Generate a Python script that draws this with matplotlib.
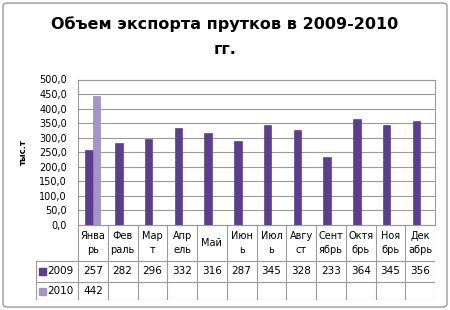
import matplotlib.pyplot as plt
import numpy as np
from matplotlib.patches import Rectangle, FancyBboxPatch

months = ["Янва\nрь", "Фев\nраль", "Мар\nт", "Апр\nель", "Май", "Июн\nь",
          "Июл\nь", "Авгу\nст", "Сент\nябрь", "Октя\nбрь", "Ноя\nбрь", "Дек\nабрь"]
series_names = ["2009", "2010"]
v2009 = [257, 282, 296, 332, 316, 287, 345, 328, 233, 364, 345, 356]
v2010 = [442]
colors = ["#5d3d8f", "#a595c6"]

W, H = 450, 310
fig = plt.figure(figsize=(W / 100, H / 100), dpi=100)
plt.rcParams['font.family'] = ['DejaVu Sans']

def box(l, t, r, b):
    return [l / W, 1 - b / H, (r - l) / W, (b - t) / H]

# outer frame
fig.patches.append(FancyBboxPatch((3 / W, 3 / H), 1 - 6 / W, 1 - 6 / H,
                                  boxstyle="round,pad=0,rounding_size=0.01",
                                  transform=fig.transFigure, fill=False,
                                  edgecolor="#9a9a9a", lw=1))

fig.text(0.5, 1 - 24 / H, "Объем экспорта прутков в 2009-2010", ha="center",
         va="center", fontsize=11.5, fontweight="bold")
fig.text(0.5, 1 - 50 / H, "гг.", ha="center", va="center",
         fontsize=11.5, fontweight="bold")

# chart
ax = fig.add_axes(box(78, 79.5, 435, 225))
x = np.arange(len(months))
bw = 0.25
ax.bar(x - bw / 2, v2009, bw, color=colors[0], edgecolor="#4a2f75", lw=0.4, zorder=3)
ax.bar(x[:len(v2010)] + bw / 2, v2010, bw, color=colors[1], edgecolor="#8c7cb0",
       lw=0.4, zorder=3)
ax.set_xlim(-0.5, len(months) - 0.5)
ax.set_ylim(0, 500)
ax.set_yticks(np.arange(0, 501, 50))
ax.set_yticklabels([f"{v:.1f}".replace(".", ",") for v in np.arange(0, 501, 50)],
                   fontsize=7)
ax.set_xticks([])
ax.tick_params(axis="y", length=0, pad=8)
ax.grid(axis="y", color="#9a9a9a", lw=0.8, zorder=0)
for s in ax.spines.values():
    s.set_color("#9a9a9a")
    s.set_linewidth(0.8)
ax.set_ylabel("тыс.т", fontsize=6, fontweight="bold", labelpad=8)

# data table
cw = (435 - 78) / len(months)
x0 = -0.5 - (78 - 36) / cw
tab = fig.add_axes(box(36, 225, 435, 300))
tab.set_xlim(x0, len(months) - 0.5)
tab.set_ylim(300, 225)
tab.axis("off")
lc = dict(color="#9a9a9a", lw=0.8)
rows = [225, 261, 282, 300]
for i in range(len(months) + 1):
    tab.plot([i - 0.5, i - 0.5], [225, 300], **lc)
tab.plot([x0, x0], [261, 300], **lc)
tab.plot([-0.5, len(months) - 0.5], [225, 225], **lc)
for r in rows[1:]:
    tab.plot([x0, len(months) - 0.5], [r, r], **lc)
for i, m in enumerate(months):
    tab.text(i, 243, m, ha="center", va="center", fontsize=7, linespacing=1.5)
for i, v in enumerate(v2009):
    tab.text(i, 271.5, str(v), ha="center", va="center", fontsize=7.5)
for i, v in enumerate(v2010):
    tab.text(i, 291, str(v), ha="center", va="center", fontsize=7.5)
for j, (name, c, yc) in enumerate(zip(series_names, colors, [271.5, 291])):
    tab.add_patch(Rectangle((x0 + 0.1, yc - 3.5), 0.22, 7, color=c))
    tab.text(x0 + 0.38, yc, name, ha="left", va="center", fontsize=7.5)

fig.savefig("out.png", dpi=100)
